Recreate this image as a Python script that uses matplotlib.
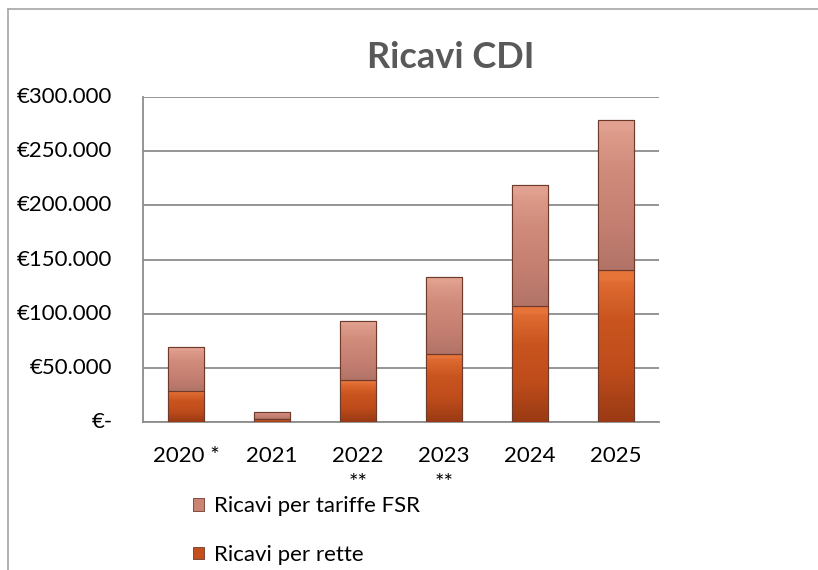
import matplotlib
matplotlib.use("Agg")
import numpy as np
import matplotlib.pyplot as plt
from matplotlib.patches import Patch
from matplotlib.lines import Line2D
from matplotlib.ticker import FuncFormatter
from matplotlib.colors import LinearSegmentedColormap

# ---- data ----
categories = ["2020 *", "2021", "2022\n**", "2023\n**", "2024", "2025"]
rette = [29000, 2500, 38500, 63000, 107500, 140500]
fsr = [40000, 6500, 54500, 71000, 111000, 138500]
yticks = [0, 50000, 100000, 150000, 200000, 250000, 300000]
title = "Ricavi CDI"
series_names = ["Ricavi per rette", "Ricavi per tariffe FSR"]

plt.rcParams['font.family'] = ['Lato', 'DejaVu Sans']

W, H = 818, 570
fig = plt.figure(figsize=(W / 100, H / 100), dpi=100)
ax = fig.add_axes([143 / W, 1 - 422 / H, (659 - 143) / W, (422 - 97) / H])

x = list(range(len(categories)))
c_rette = "#C24F1C"
c_fsr = "#CB8474"
edge = "#6E3A2C"
bw = 0.41
b1 = ax.bar(x, rette, width=bw, color=c_rette, edgecolor=edge, linewidth=0.8, zorder=3)
b2 = ax.bar(x, fsr, width=bw, bottom=rette, color=c_fsr, edgecolor=edge, linewidth=0.8, zorder=3)

ax.set_xlim(-0.5, len(categories) - 0.5)
ax.set_ylim(0, 300000)

# gradient shading inside each bar (clipped to the bar patches)
cm_rette = LinearSegmentedColormap.from_list("r", ["#9A3A14", "#BE4C1B", "#C9541F", "#E67338"])
cm_fsr = LinearSegmentedColormap.from_list("f", ["#B27468", "#C68072", "#D08B7B", "#E2A190"])
grad = np.linspace(0, 1, 64).reshape(-1, 1)
grad[-5:] = 1.0
for bars, cmap in ((b1, cm_rette), (b2, cm_fsr)):
    for p in bars:
        x0, y0 = p.get_x(), p.get_y()
        w, h = p.get_width(), p.get_height()
        im = ax.imshow(grad, cmap=cmap, origin='lower', aspect='auto',
                       extent=(x0, x0 + w, y0, y0 + h), zorder=3.5,
                       interpolation='bilinear')
        im.set_clip_path(p)
        ax.add_patch(plt.Rectangle((x0, y0), w, h, fill=False, edgecolor=edge,
                                   linewidth=0.8, zorder=4))

ax.set_xlim(-0.5, len(categories) - 0.5)
ax.set_ylim(0, 300000)
ax.set_yticks(yticks)


def fmt(v, pos):
    if v == 0:
        return "€-"
    return "€" + f"{int(v):,}".replace(",", ".")


ax.yaxis.set_major_formatter(FuncFormatter(fmt))
ax.set_xticks(x)
ax.set_xticklabels(categories, fontsize=16, linespacing=1.45)
ax.tick_params(axis='y', length=0, pad=22, labelsize=16)
ax.tick_params(axis='x', length=0, pad=17)
for lbl in ax.get_yticklabels():
    lbl.set_verticalalignment('center')

ax.grid(axis='y', color='#8C8C8C', linewidth=1.3, zorder=0)
ax.set_axisbelow(True)
for s in ['top', 'right']:
    ax.spines[s].set_visible(False)
for s in ['left', 'bottom']:
    ax.spines[s].set_color('#8C8C8C')
    ax.spines[s].set_linewidth(1.3)

fig.text(451 / W, 1 - 57 / H, title, fontsize=26, fontweight='bold',
         color='#595959', ha='center', va='center')

handles = [Patch(facecolor=c_fsr, edgecolor=edge, linewidth=0.6),
           Patch(facecolor=c_rette, edgecolor=edge, linewidth=0.6)]
labels = [series_names[1], series_names[0]]
fig.legend(handles, labels, loc='upper left', bbox_to_anchor=(182 / W, 1 - 485 / H),
           frameon=False, fontsize=16, handlelength=0.5, handleheight=0.5,
           handletextpad=0.45, labelspacing=1.3, borderpad=0.0)

# outer chart frame
fig.add_artist(Line2D([8 / W, 1.0], [1 - 9 / H, 1 - 9 / H], transform=fig.transFigure,
                      color='#A6A6A6', linewidth=1.2))
fig.add_artist(Line2D([8 / W, 8 / W], [1 - 9 / H, 0.0], transform=fig.transFigure,
                      color='#A6A6A6', linewidth=1.2))

fig.savefig("out.png", dpi=100)
